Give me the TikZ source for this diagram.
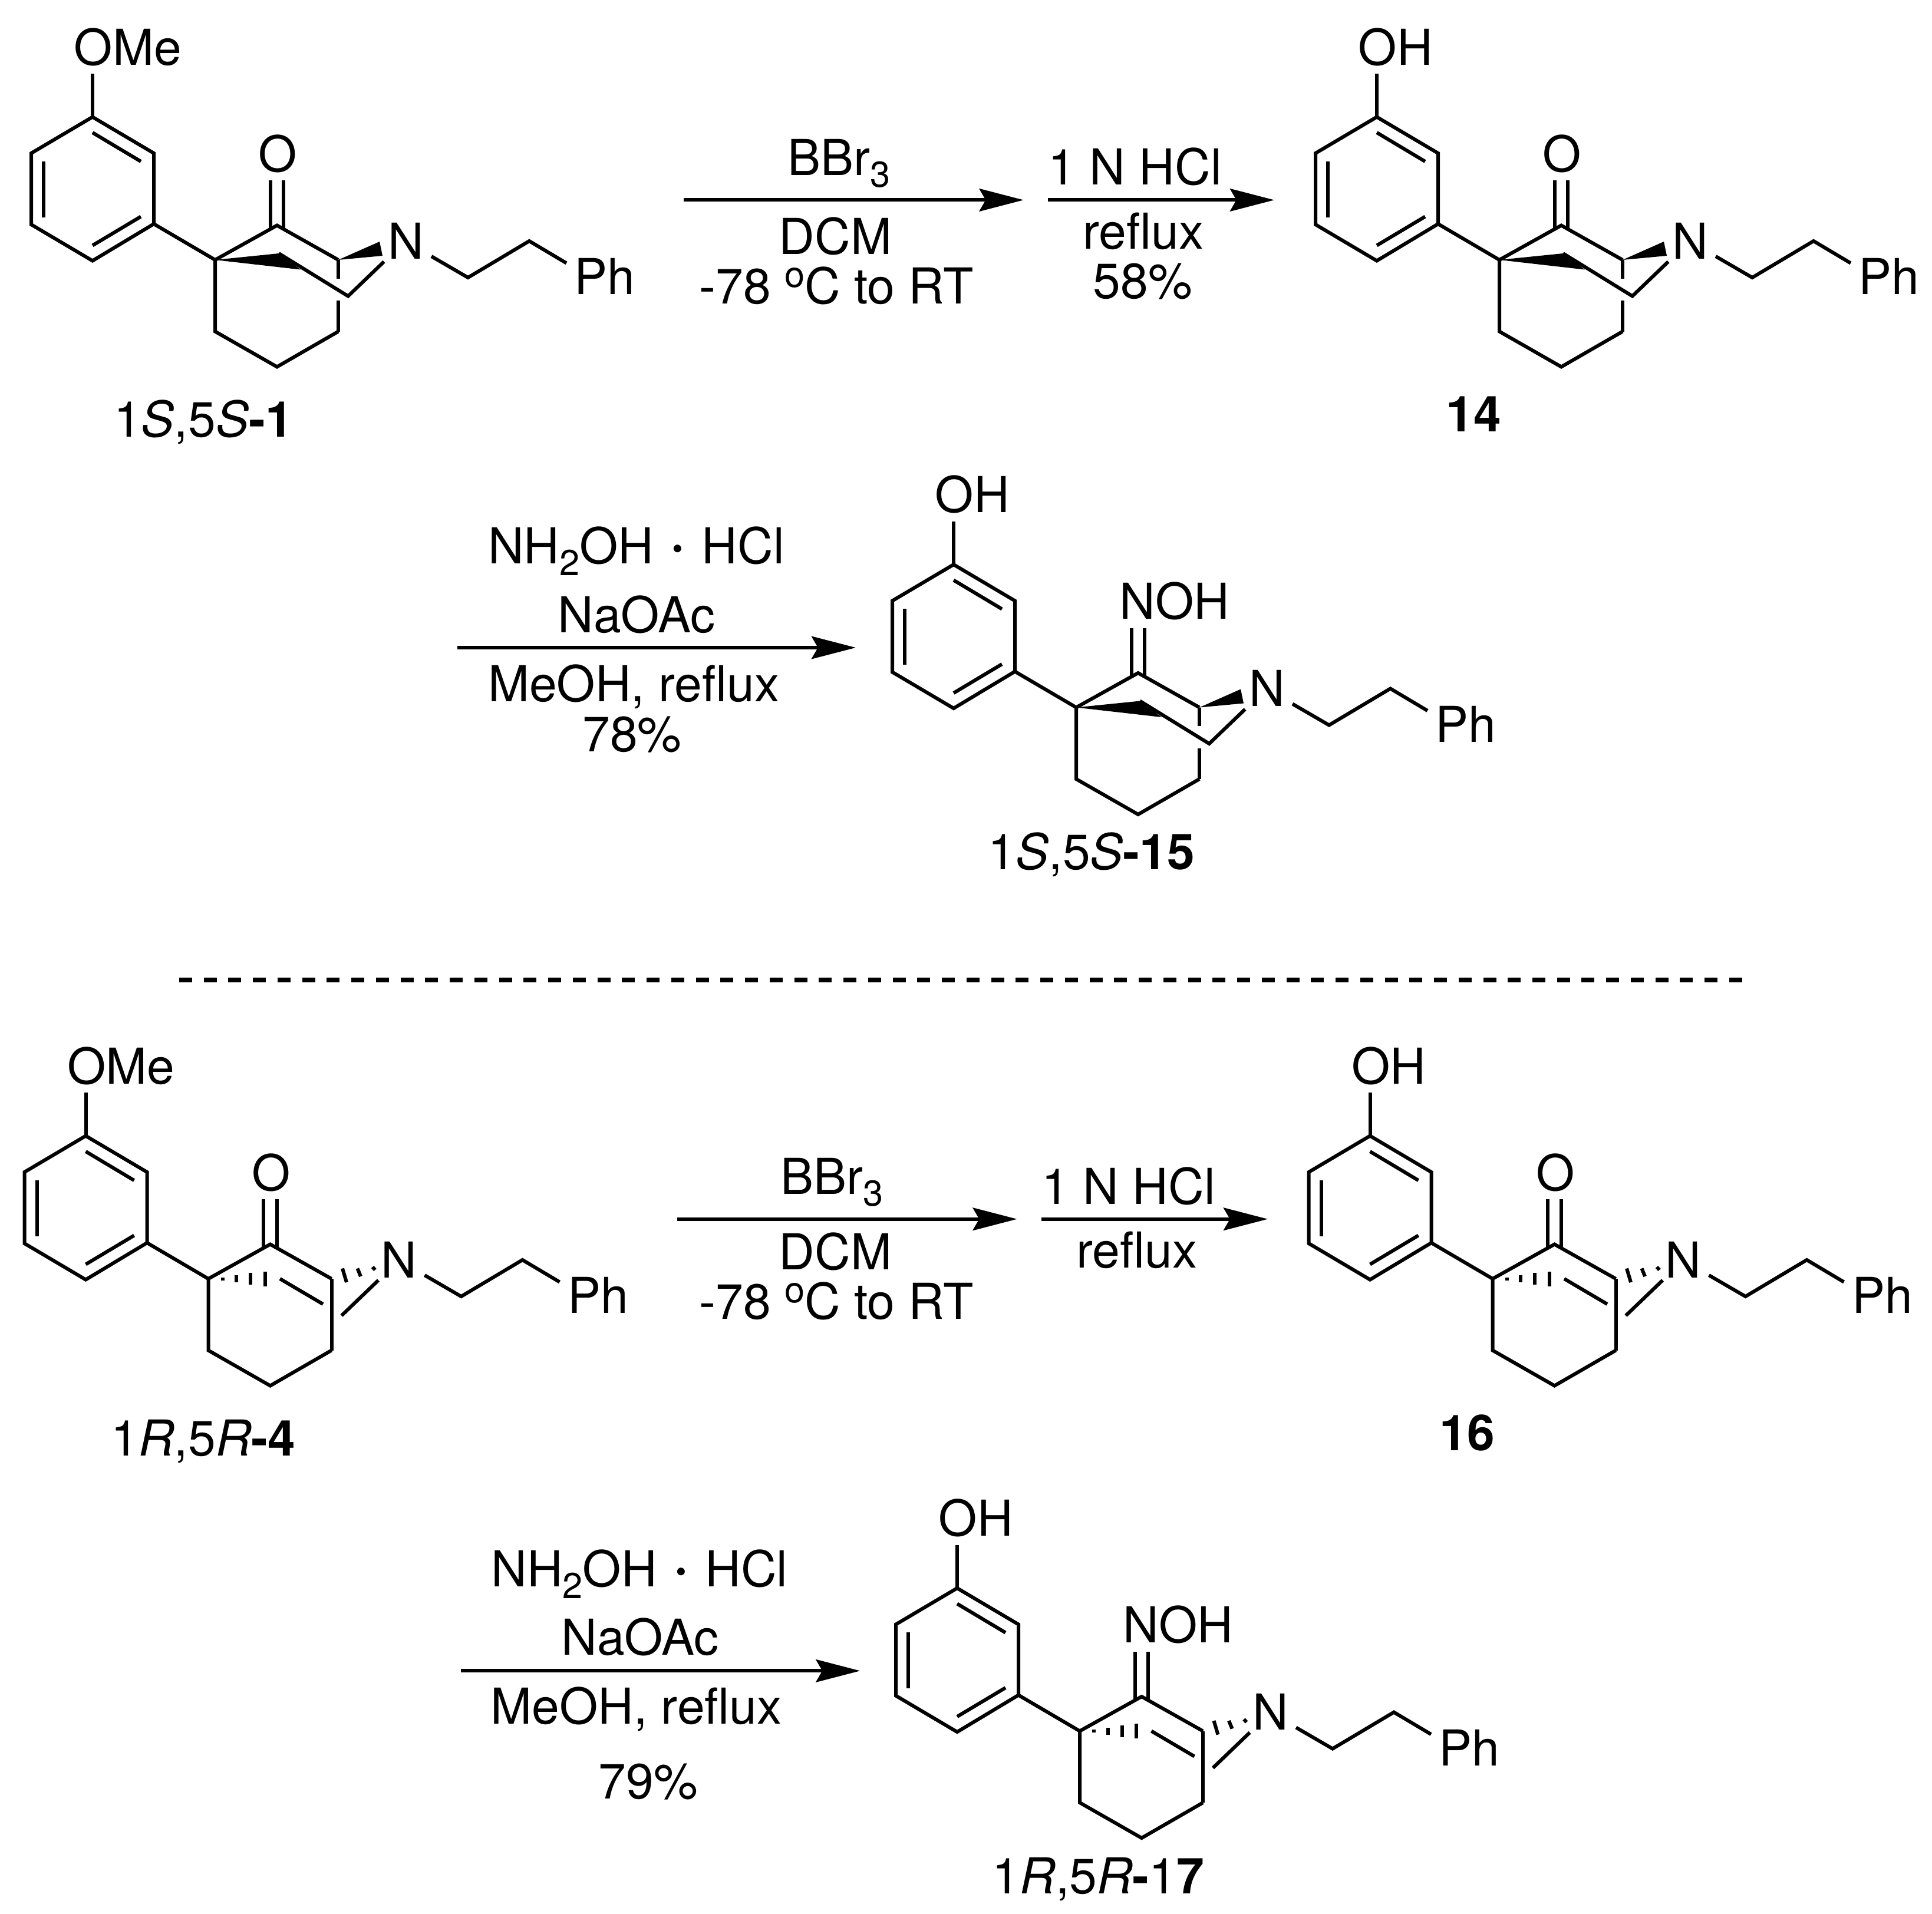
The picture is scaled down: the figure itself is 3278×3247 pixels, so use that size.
\documentclass[tikz,border=0pt]{standalone}
\usepackage{fontspec}
\setmainfont{TeX Gyre Heros}
\usetikzlibrary{arrows.meta}
\newcommand{\lowsub}[1]{\raisebox{-4.8pt}{\fontsize{14.7}{15}\selectfont #1}}
\newcommand{\dego}{\raisebox{6.7pt}{\fontsize{14.7}{15}\selectfont o}}
\newcommand{\saltdot}{\raisebox{-1.5pt}{\fontsize{30}{30}\selectfont\textperiodcentered}}
\newcommand{\bridgeS}{
\fill (-c1) -- (473,430) -- (510,457.5) -- cycle;
\fill (-c3) -- (644,410) -- (649,434) -- cycle;
\coordinate (-b1) at (473,430);
\coordinate (-b2) at (590.6,502.5);
\coordinate (-b3) at (651.5,444);
\draw[bond] (-b1) -- (-b2) -- (-b3);
\draw[bond] (-c3) -- (574,472.5);
\draw[bond] (574,510) -- (-c6);
}
\newcommand{\bridgeR}{
\foreach \hx/\hh in {389/2.5,412.5/6,436.5/10,461/12.5}
  \draw[bond] (\hx,441-\hh) -- (\hx,441+\hh);
\draw[bond] (592.5,423.5) -- (599.5,447);
\draw[bond] (618,423.5) -- (623.5,437);
\draw[bond] (643.5,421) -- (648,426);
\coordinate (-b1) at (486.5,441);
\coordinate (-b2) at (559.5,484);
\coordinate (-b3) at (591,503.5);
\coordinate (-b4) at (653.5,443.5);
\draw[bond] (-b1) -- (-b2);
\draw[bond] (-b3) -- (-b4);
\draw[bond] (-c3) -- (-c6);
}
\tikzset{
  bond/.style={line width=1.44pt,line join=miter},
  rxn/.style={->,line width=1.44pt},
  atom/.style={inner sep=0pt,anchor=base west},
  lab/.style={inner sep=0pt,anchor=base},
  pics/core/.style n args={3}{code={
    \coordinate (-a1) at (157,198.5);
    \coordinate (-a2) at (261,260);
    \coordinate (-a3) at (261,380);
    \coordinate (-a4) at (157,442.5);
    \coordinate (-a5) at (53,381);
    \coordinate (-a6) at (53,260);
    \coordinate (-c1) at (365,441);
    \coordinate (-c2) at (470,382.5);
    \coordinate (-c3) at (574,441);
    \coordinate (-c6) at (574,562.5);
    \coordinate (-c7) at (470,622.5);
    \coordinate (-c8) at (365,562.5);
    \coordinate (-e1) at (732,435);
    \coordinate (-e2) at (794,471);
    \coordinate (-e3) at (898,409);
    \coordinate (-e4) at (961,446.5);
    \node[atom] (-sub) at (125,110) {#1};
    \node[atom] (-het) at (438,291) {#2};
    \node[atom] (-n) at (657.6,439) {N};
    \node[atom] (-ph) at (974,499.5) {Ph};
    \draw[bond] (-a1) -- (-a2) -- (-a3) -- (-a4) -- (-a5) -- (-a6) -- cycle;
    \draw[bond] (157,225) -- (239,274);
    \draw[bond] (74,273.5) -- (74,368.5);
    \draw[bond] (239,367.5) -- (157,416.5);
    \draw[bond] (-a1) -- (157,125);
    \draw[bond] (-a3) -- (-c1);
    \draw[bond] (-c3) -- (-c2) -- (-c1) -- (-c8) -- (-c7) -- (-c6);
    \draw[bond] (458.5,306) -- (458.5,389);
    \draw[bond] (481,306) -- (481,389);
    \draw[bond] (-e1) -- (-e2) -- (-e3) -- (-e4);
    #3
  }},
}
\begin{document}
\begin{tikzpicture}[x=0.24pt,y=-0.24pt,>={Stealth[length=18pt,width=9.2pt,inset=2.6pt]},
  every node/.style={font=\fontsize{20.16}{24}\selectfont}]
\useasboundingbox (0,0) rectangle (3278,3247);

\pic (mol1) at (0,0) {core={OMe}{O}{\bridgeS}};
\pic (mol14) at (2179,0) {core={OH}{O}{\bridgeS}};
\pic (mol15) at (1461,759.5) {core={OH}{NOH}{\bridgeS}};
\pic (mol4) at (-11.5,1729) {core={OMe}{O}{\bridgeR}};
\pic (mol16) at (2167.5,1729) {core={OH}{O}{\bridgeR}};
\pic (mol17) at (1467,2496.5) {core={OH}{NOH}{\bridgeR}};

\node[lab] (name1) at (345,741) {1\textit{S},5\textit{S}\textbf{-1}};
\node[lab] (name14) at (2500,732) {\textbf{14}};
\node[lab] (name15) at (1852,1475.5) {1\textit{S},5\textit{S}\textbf{-15}};
\node[lab] (name4) at (345,2470) {1\textit{R},5\textit{R}\textbf{-4}};
\node[lab] (name16) at (2489.5,2461) {\textbf{16}};
\node[lab] (name17) at (1863.6,3213) {1\textit{R},5\textit{R}\textbf{-}1\textbf{7}};

\coordinate (a1s) at (1160,339.4);
\coordinate (a1e) at (1736.6,339.4);
\coordinate (a2s) at (1778.4,339.4);
\coordinate (a2e) at (2162,339.4);
\coordinate (a3s) at (776,1099);
\coordinate (a3e) at (1452,1099);
\coordinate (a4s) at (1149,2068.7);
\coordinate (a4e) at (1725.6,2068.7);
\coordinate (a5s) at (1766.7,2068.7);
\coordinate (a5e) at (2151,2068.7);
\coordinate (a6s) at (782,2835.3);
\coordinate (a6e) at (1459.4,2835.3);
\draw[rxn] (a1s) -- (a1e);
\draw[rxn] (a2s) -- (a2e);
\draw[rxn] (a3s) -- (a3e);
\draw[rxn] (a4s) -- (a4e);
\draw[rxn] (a5s) -- (a5e);
\draw[rxn] (a6s) -- (a6e);

\node[lab] (bbr1) at (1423.4,297.5) {BBr\lowsub{3}};
\node[lab] (dcm1) at (1417.6,431) {DCM};
\node[lab] (temp1) at (1419,515.4) {-78 \dego C to RT};
\node[lab] (hcl1) at (1925.8,313.7) {1 N HCl};
\node[lab] (ref1) at (1939.7,422) {reflux};
\node[lab] (yld1) at (1939,506.6) {58\%};

\node[lab] (hya1) at (1079.4,956.7) {NH\lowsub{2}OH \saltdot{} HCl};
\node[lab] (ace1) at (1080,1073) {NaOAc};
\node[lab] (mer1) at (1075,1190.7) {MeOH, reflux};
\node[lab] (yld2) at (1072.5,1275) {78\%};

\coordinate (dashl) at (304,1663);
\coordinate (dashr) at (2956,1663);
\draw[line width=1.92pt,dash pattern=on 5.28pt off 4.739pt] (dashl) -- (dashr);

\node[lab] (bbr2) at (1411.7,2026.9) {BBr\lowsub{3}};
\node[lab] (dcm2) at (1417.6,2154.5) {DCM};
\node[lab] (temp2) at (1419,2238.8) {-78 \dego C to RT};
\node[lab] (hcl2) at (1914.8,2043) {1 N HCl};
\node[lab] (ref2) at (1928.7,2151.6) {reflux};

\node[lab] (hya2) at (1085,2692.7) {NH\lowsub{2}OH \saltdot{} HCl};
\node[lab] (ace2) at (1086,2808.3) {NaOAc};
\node[lab] (mer2) at (1079.5,2925.7) {MeOH, reflux};
\node[lab] (yld3) at (1100,3052) {79\%};
\end{tikzpicture}
\end{document}
